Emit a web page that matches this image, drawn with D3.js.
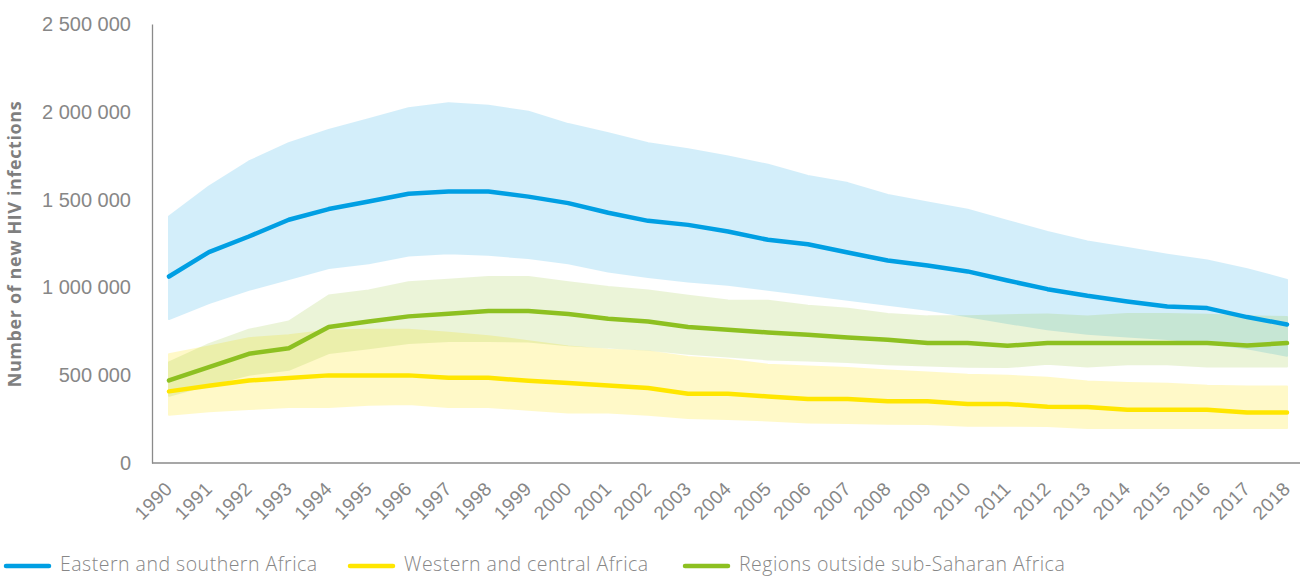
<!DOCTYPE html>
<html>
<head>
<meta charset="utf-8">
<script src="https://cdn.jsdelivr.net/npm/d3@7"></script>
<style>
  body { margin: 0; background: #fff; }
  svg { display: block; font-family: "Open Sans", Lato, sans-serif; }
</style>
</head>
<body>
<svg id="chart" width="1304" height="577"></svg>
<script>
const years = d3.range(1990, 2019);

// Eastern and southern Africa
const esaCentral = [1062000, 1201000, 1290000, 1385000, 1446000, 1489000, 1533000, 1546000, 1546000, 1517000,
  1480000, 1425000, 1379000, 1356000, 1318000, 1271000, 1246000, 1199000, 1153000, 1125000,
  1091000, 1039000, 990000, 952000, 920000, 891000, 882000, 831000, 789000];
const esaUpper = [1404000, 1574000, 1717000, 1821000, 1897000, 1958000, 2020000, 2049000, 2034000, 2001000,
  1930000, 1878000, 1821000, 1787000, 1745000, 1698000, 1635000, 1594000, 1527000, 1483000,
  1442000, 1379000, 1315000, 1261000, 1224000, 1186000, 1153000, 1104000, 1043000];
const esaLower = [820000, 911000, 986000, 1047000, 1110000, 1138000, 1182000, 1195000, 1186000, 1167000,
  1138000, 1091000, 1059000, 1034000, 1015000, 986000, 958000, 929000, 901000, 873000,
  835000, 797000, 762000, 736000, 721000, 706000, 683000, 654000, 611000];

// Western and central Africa
const wcaCentral = [408000, 440000, 470000, 484000, 499000, 499000, 499000, 485000, 485000, 468000,
  455000, 442000, 427000, 394000, 394000, 379000, 364000, 364000, 351000, 351000,
  336000, 336000, 320000, 319000, 303000, 303000, 303000, 288000, 288000];
const wcaUpper = [620000, 664000, 711000, 728000, 755000, 759000, 759000, 742000, 722000, 694000,
  664000, 645000, 635000, 603000, 588000, 559000, 550000, 541000, 527000, 516000,
  503000, 497000, 486000, 464000, 455000, 451000, 440000, 436000, 436000];
const wcaLower = [275000, 294000, 307000, 319000, 319000, 332000, 336000, 319000, 319000, 303000,
  288000, 288000, 275000, 256000, 250000, 242000, 231000, 228000, 224000, 222000,
  212000, 212000, 210000, 199000, 199000, 199000, 199000, 199000, 199000];

// Regions outside sub-Saharan Africa
const outCentral = [470000, 546000, 622000, 654000, 774000, 806000, 835000, 850000, 865000, 865000,
  848000, 821000, 806000, 774000, 759000, 743000, 730000, 715000, 702000, 683000,
  683000, 668000, 683000, 683000, 683000, 683000, 683000, 669000, 683000];
const outUpper = [573000, 677000, 759000, 806000, 954000, 982000, 1030000, 1043000, 1059000, 1059000,
  1030000, 1002000, 982000, 952000, 926000, 924000, 895000, 878000, 848000, 835000,
  835000, 842000, 846000, 835000, 848000, 848000, 844000, 835000, 831000];
const outLower = [383000, 446000, 503000, 531000, 626000, 654000, 683000, 695000, 695000, 692000,
  670000, 658000, 645000, 622000, 607000, 590000, 583000, 575000, 563000, 555000,
  548000, 546000, 565000, 550000, 563000, 563000, 550000, 550000, 550000];

const yTicks = [0, 500000, 1000000, 1500000, 2000000, 2500000];
const seriesNames = ["Eastern and southern Africa", "Western and central Africa", "Regions outside sub-Saharan Africa"];
const seriesColors = ["#009fe3", "#ffe600", "#8dc021"];

const series = [
  {name: seriesNames[0], color: seriesColors[0], mid: esaCentral, lo: esaLower, hi: esaUpper},
  {name: seriesNames[1], color: seriesColors[1], mid: wcaCentral, lo: wcaLower, hi: wcaUpper},
  {name: seriesNames[2], color: seriesColors[2], mid: outCentral, lo: outLower, hi: outUpper}
];

const svg = d3.select("#chart");
const axisColor = "#8a8a8a";
const textColor = "#878787";

const x = d3.scalePoint().domain(years).range([169, 1287]);
const y = d3.scaleLinear().domain([0, 2500000]).range([463, 24]);

// uncertainty bands
const area = d3.area()
  .x((d, i) => x(years[i]))
  .y0(d => y(d[0]))
  .y1(d => y(d[1]));

series.forEach(s => {
  const pts = s.lo.map((v, i) => [v, s.hi[i]]);
  svg.append("g")
    .attr("opacity", s.color === "#ffe600" ? 0.21 : 0.17)
    .append("path")
    .datum(pts)
    .attr("d", area)
    .attr("fill", s.color)
    .attr("stroke", s.color)
    .attr("stroke-width", 2)
    .attr("stroke-linejoin", "round");
});

// axes
const yAxis = d3.axisLeft(y)
  .tickValues(yTicks)
  .tickSize(0)
  .tickPadding(21)
  .tickFormat(d => d3.format(",")(d).replace(/,/g, " "));

const gy = svg.append("g")
  .attr("transform", "translate(152,0)")
  .call(yAxis);
gy.select(".domain").attr("stroke", axisColor).attr("stroke-width", 1.3);
gy.selectAll("text")
  .attr("fill", textColor)
  .style("font-size", "20px")
  .style("font-weight", 300);

const xAxis = d3.axisBottom(x).tickSize(0);
const gx = svg.append("g")
  .attr("transform", "translate(0,463)")
  .call(xAxis);
gx.select(".domain").remove();
gx.selectAll("text")
  .attr("fill", textColor)
  .attr("text-anchor", "end")
  .attr("y", 0)
  .attr("dy", 0)
  .attr("transform", "translate(4,27) rotate(-45)")
  .style("font-size", "19px")
  .style("letter-spacing", "0.4px")
  .style("font-weight", 300);

svg.append("line")
  .attr("x1", 152).attr("x2", 1300)
  .attr("y1", y(0)).attr("y2", y(0))
  .attr("stroke", axisColor)
  .attr("stroke-width", 1.3);

svg.append("text")
  .attr("transform", "translate(21,244) rotate(-90)")
  .attr("text-anchor", "middle")
  .attr("fill", "#7f7f7f")
  .style("font-size", "18px")
  .style("letter-spacing", "0.6px")
  .style("font-weight", 700)
  .text("Number of new HIV infections");

// central lines
const line = d3.line()
  .x((d, i) => x(years[i]))
  .y(d => y(d));

series.forEach(s => {
  svg.append("path")
    .datum(s.mid)
    .attr("d", line)
    .attr("fill", "none")
    .attr("stroke", s.color)
    .attr("stroke-width", 4.5)
    .attr("stroke-linecap", "round")
    .attr("stroke-linejoin", "round");
});

// legend
const legendX = [6, 350, 685];
const legend = svg.append("g").attr("transform", "translate(0,566)");
series.forEach((s, i) => {
  const g = legend.append("g").attr("transform", `translate(${legendX[i]},0)`);
  g.append("line")
    .attr("x1", 0).attr("x2", 43)
    .attr("stroke", s.color)
    .attr("stroke-width", 4.5)
    .attr("stroke-linecap", "round");
  g.append("text")
    .attr("x", 54)
    .attr("y", 5)
    .attr("fill", textColor)
    .style("font-size", "19.5px")
    .style("letter-spacing", "0.5px")
    .style("font-weight", 300)
    .text(s.name);
});
</script>
</body>
</html>
